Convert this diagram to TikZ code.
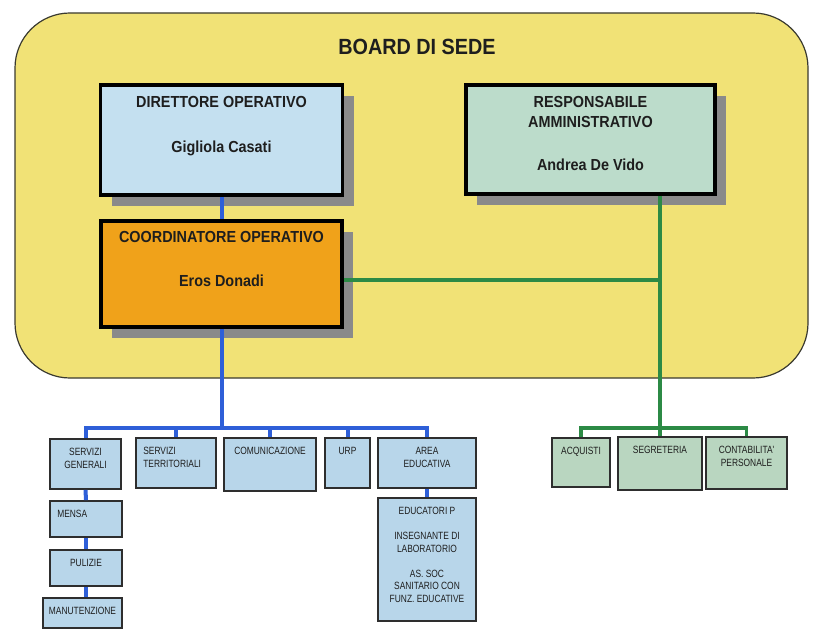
\documentclass[tikz,border=0pt]{standalone}
\usepackage{fontspec}
\setmainfont{Liberation Sans}[FakeStretch=0.9]
\newfontfamily\narrowfont{Liberation Sans}[FakeStretch=0.8]
\usepackage{tikz}
\usetikzlibrary{positioning,shadows}
\definecolor{boardyellow}{HTML}{F1E276}
\definecolor{boardline}{HTML}{3A3A30}
\definecolor{dirblue}{HTML}{C4E0F0}
\definecolor{respgreen}{HTML}{BCDCCB}
\definecolor{coordorange}{HTML}{F0A21A}
\definecolor{lowblue}{HTML}{B8D6EA}
\definecolor{lowgreen}{HTML}{B9D6C0}
\definecolor{boxline}{HTML}{2E2E2E}
\definecolor{shadowgray}{HTML}{8A8A8A}
\definecolor{textdark}{HTML}{1E1E1E}
\definecolor{linkblue}{HTML}{2E5FD8}
\definecolor{linkgreen}{HTML}{2C8A45}

\begin{document}
\begin{tikzpicture}[x=1pt,y=-1pt,inner sep=0pt]
    \tikzset{
      topbox/.style={draw=black,line width=3.5pt,rectangle,
        drop shadow={shadow xshift=11pt,shadow yshift=-11pt,fill=shadowgray,opacity=1}},
      toptext/.style={anchor=north,align=center,text=textdark,
        font=\bfseries\fontsize{16}{20}\selectfont},
      lowbox/.style={draw=boxline,line width=1.8pt,rectangle},
      lowtext/.style={anchor=north,align=center,text=textdark,
        font=\narrowfont\fontsize{10.5}{12.5}\selectfont},
      bluelink/.style={draw=linkblue,line width=4pt},
      greenlink/.style={draw=linkgreen,line width=3.5pt}
    }
    \useasboundingbox (0,0) rectangle (813,639);
    \draw[fill=boardyellow,draw=boardline,line width=1.2pt,rounded corners=55pt]
      (15,13) rectangle (808,378);
    \node[text=textdark,font=\bfseries\fontsize{22}{26}\selectfont] (board) at (417,47) {BOARD DI SEDE};

    \node[topbox,fill=dirblue,minimum width=242pt,minimum height=110pt] (dir) at (221.5,140) {};
    \node[toptext] (dirt) at ([yshift=-13pt]dir.north) {DIRETTORE OPERATIVO\\[25pt]Gigliola Casati};
    \node[topbox,fill=respgreen,minimum width=249pt,minimum height=109pt] (resp) at (590.5,139.5) {};
    \node[toptext] (respt) at ([yshift=-13pt]resp.north) {RESPONSABILE\\AMMINISTRATIVO\\[23pt]Andrea De Vido};
    \node[topbox,fill=coordorange,minimum width=241pt,minimum height=106pt] (coord) at (221.5,274) {};
    \node[toptext] (coordt) at ([yshift=-12pt]coord.north) {COORDINATORE OPERATIVO\\[24pt]Eros Donadi};

    \node[lowbox,fill=lowblue,minimum width=71pt,minimum height=50pt] (sg) at (85.5,464) {};
    \node[lowtext] (sgt) at ([yshift=-10pt]sg.north) {SERVIZI\\GENERALI};
    \node[lowbox,fill=lowblue,minimum width=80pt,minimum height=50pt] (st) at (176,463) {};
    \node[lowtext,anchor=north west,align=left] (stt) at ([xshift=8pt,yshift=-10pt]st.north west) {SERVIZI\\TERRITORIALI};
    \node[lowbox,fill=lowblue,minimum width=92pt,minimum height=53pt] (com) at (270,464.5) {};
    \node[lowtext] (comt) at ([yshift=-10pt]com.north) {COMUNICAZIONE};
    \node[lowbox,fill=lowblue,minimum width=45pt,minimum height=50pt] (urp) at (347.5,463) {};
    \node[lowtext] (urpt) at ([yshift=-10pt]urp.north) {URP};
    \node[lowbox,fill=lowblue,minimum width=98pt,minimum height=50pt] (ae) at (427,463) {};
    \node[lowtext] (aet) at ([yshift=-10pt]ae.north) {AREA\\EDUCATIVA};

    \node[lowbox,fill=lowblue,minimum width=72pt,minimum height=36pt] (mensa) at (86,519) {};
    \node[lowtext,anchor=north west] (mensat) at ([xshift=8pt,yshift=-10pt]mensa.north west) {MENSA};
    \node[lowbox,fill=lowblue,minimum width=72pt,minimum height=36pt] (pul) at (86,568) {};
    \node[lowtext] (pult) at ([yshift=-10pt]pul.north) {PULIZIE};
    \node[lowbox,fill=lowblue,minimum width=79pt,minimum height=30pt] (man) at (82.5,613) {};
    \node[lowtext] (mant) at ([yshift=-10pt]man.north) {MANUTENZIONE};
    \node[lowbox,fill=lowblue,minimum width=98pt,minimum height=123pt] (edu) at (427,559.5) {};
    \node[lowtext] (edut) at ([yshift=-10pt]edu.north)
      {EDUCATORI P\\[12.5pt]INSEGNANTE DI\\LABORATORIO\\[12.5pt]AS. SOC\\SANITARIO CON\\FUNZ. EDUCATIVE};

    \node[lowbox,fill=lowgreen,minimum width=58pt,minimum height=49pt] (acq) at (581,462.5) {};
    \node[lowtext] (acqt) at ([yshift=-10pt]acq.north) {ACQUISTI};
    \node[lowbox,fill=lowgreen,minimum width=84pt,minimum height=53pt] (seg) at (660,463.5) {};
    \node[lowtext] (segt) at ([yshift=-10pt]seg.north) {SEGRETERIA};
    \node[lowbox,fill=lowgreen,minimum width=81pt,minimum height=52pt] (cont) at (746.5,463) {};
    \node[lowtext] (contt) at ([yshift=-10pt]cont.north) {CONTABILITA'\\PERSONALE};

    \coordinate (lbus) at (0,428);
    \coordinate (rbus) at (0,428);
    \draw[bluelink] (dir.south) -- (coord.north);
    \draw[bluelink] (coord.south) -- (coord.south |- lbus);
    \draw[bluelink] (sg.north) |- (ae.north |- lbus) -- (ae.north);
    \foreach \n in {st,com,urp}
      \draw[bluelink] (\n.north) -- (\n.north |- lbus);
    \draw[bluelink] (sg.south) -- (mensa.north);
    \draw[bluelink] (mensa.south) -- (pul.north);
    \draw[bluelink] (pul.south) -- (pul.south |- man.north);
    \draw[bluelink] (ae.south) -- (edu.north);

    \draw[greenlink] (resp.south -| seg.north) -- (seg.north);
    \draw[greenlink] ([yshift=-6pt]coord.east) -- ([yshift=-6pt]coord.east -| seg.north);
    \draw[greenlink] (acq.north) |- (cont.north |- rbus) -- (cont.north);
\end{tikzpicture}
\end{document}
